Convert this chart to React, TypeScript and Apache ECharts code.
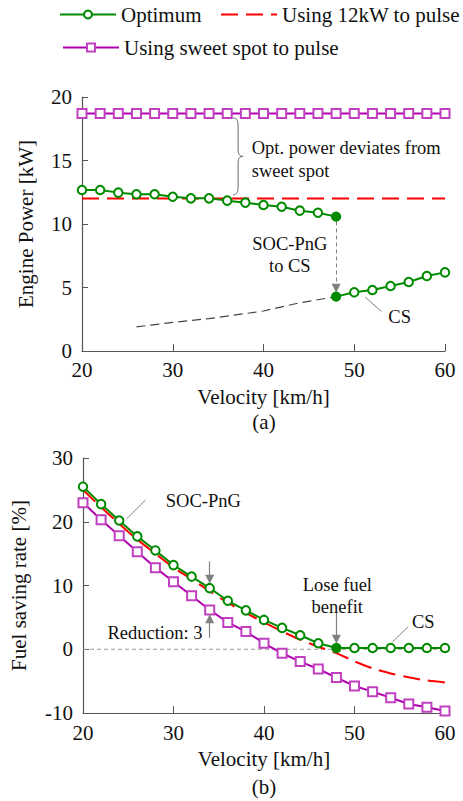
import React, { useEffect, useRef } from 'react';
import * as echarts from 'echarts';

// ---------- data ----------
const velocity = [20, 22, 24, 26, 28, 30, 32, 34, 36, 38, 40, 42, 44, 46, 48, 50, 52, 54, 56, 58, 60];

// (a) Engine power [kW]
const topOptPulseV = [20, 22, 24, 26, 28, 30, 32, 34, 36, 38, 40, 42, 44, 46, 48];
const topOptPulse = [12.68, 12.68, 12.47, 12.34, 12.34, 12.15, 12.02, 12.02, 11.84, 11.68, 11.5, 11.36, 11.05, 10.89, 10.58];
const topOptCSV = [48, 50, 52, 54, 56, 58, 60];
const topOptCS = [4.28, 4.62, 4.8, 5.12, 5.43, 5.9, 6.19];
const topSweet = [18.7, 18.7, 18.7, 18.7, 18.7, 18.7, 18.7, 18.7, 18.7, 18.7, 18.7, 18.7, 18.7, 18.7, 18.7, 18.7, 18.7, 18.7, 18.7, 18.7, 18.7];
const top12kW = [12, 12, 12, 12, 12, 12, 12, 12, 12, 12, 12, 12, 12, 12, 12, 12, 12, 12, 12, 12, 12];
const topCSLowV = [26, 30, 34, 40, 44, 48];
const topCSLow = [1.9, 2.25, 2.55, 3.15, 3.8, 4.28];

// (b) Fuel saving rate [%]
const botOpt = [25.5, 22.76, 20.2, 17.7, 15.5, 13.2, 11.4, 9.58, 7.6, 6.1, 4.6, 3.35, 2.2, 0.94, 0.2, 0.2, 0.2, 0.2, 0.2, 0.2, 0.2];
const bot12kW = [25.0, 22.3, 19.7, 17.2, 15.0, 12.8, 11.0, 9.1, 7.3, 5.7, 4.2, 2.8, 1.5, 0.4, -0.6, -1.9, -3.0, -3.8, -4.4, -4.9, -5.2];
const botSweet = [23.0, 20.3, 17.8, 15.3, 12.8, 10.6, 8.4, 6.17, 4.2, 2.77, 0.94, -0.63, -1.94, -3.1, -4.45, -5.76, -6.65, -7.6, -8.59, -9.1, -9.69];

const legendNames = ['Optimum', 'Using 12kW to pulse', 'Using sweet spot to pulse'];

// ---------- styles ----------
const FONT = 'Liberation Serif';
const GREEN = '#008a00';
const RED = '#ff0000';
const MAGENTA = '#b000b0';
const AXIS = '#555555';
const GRAY = '#808080';

echarts.graphic.registerShape(
  'brace',
  echarts.graphic.extendPath(
    'M0,0 C4,0 5,3 5,8 L5,31 C5,36 6,38.5 10,38.5 C6,38.5 5,41 5,46 L5,69 C5,74 4,77 0,77',
    {}
  )
);

const zip = (xs: number[], ys: number[]) => xs.map((x, i) => [x, ys[i]]);

function xAxisOpt(gridIndex: number, labelMargin: number) {
  return {
    gridIndex,
    type: 'value',
    min: 20,
    max: 60,
    interval: 10,
    name: 'Velocity [km/h]',
    nameLocation: 'middle',
    nameGap: 35,
    nameTextStyle: { fontFamily: FONT, fontSize: 21, color: '#111' },
    axisLine: { show: true, onZero: false, lineStyle: { color: AXIS, width: 1.2 } },
    axisTick: { show: true, inside: true, length: 7, lineStyle: { color: AXIS } },
    axisLabel: { fontFamily: FONT, fontSize: 21, color: '#111', margin: labelMargin },
    splitLine: { show: false },
  };
}

function yAxisOpt(gridIndex: number, min: number, max: number, interval: number, name: string, nameGap: number) {
  return {
    gridIndex,
    type: 'value',
    min,
    max,
    interval,
    name,
    nameLocation: 'middle',
    nameGap,
    nameRotate: 90,
    nameTextStyle: { fontFamily: FONT, fontSize: 21, color: '#111' },
    axisLine: { show: true, onZero: false, lineStyle: { color: AXIS, width: 1.2 } },
    axisTick: { show: true, inside: true, length: 6, lineStyle: { color: AXIS } },
    axisLabel: { fontFamily: FONT, fontSize: 21, color: '#111', margin: 10 },
    splitLine: { show: false },
  };
}

const circleItems = (pts: number[][], filledX: number) =>
  pts.map(([x, y]) =>
    x === filledX
      ? { value: [x, y], symbol: 'circle', symbolSize: 9, itemStyle: { color: GREEN, borderColor: GREEN } }
      : { value: [x, y] }
  );

const legendOpt = (name: string, left: number, top: number, extra: any = {}) => ({
  data: [{ name, ...extra }],
  left,
  top,
  itemWidth: 56,
  itemHeight: 10,
  itemGap: 0,
  padding: 0,
  selectedMode: false,
  textStyle: { fontFamily: FONT, fontSize: 21, color: '#111' },
});

export default function App() {
  const ref = useRef<HTMLDivElement>(null);

  useEffect(() => {
    if (!ref.current) return;
    const chart = echarts.init(ref.current, undefined, { renderer: 'svg' });

    const greenSeries = (name: string, xi: number, data: any[]) => ({
      name,
      type: 'line',
      xAxisIndex: xi,
      yAxisIndex: xi,
      data,
      symbol: 'emptyCircle',
      symbolSize: 8.5,
      showAllSymbol: true,
      lineStyle: { color: GREEN, width: 2 },
      itemStyle: { color: GREEN, borderColor: GREEN, borderWidth: 1.3 },
      z: 5,
    });
    const sweetSeries = (xi: number, ys: number[]) => ({
      name: 'Using sweet spot to pulse',
      type: 'line',
      xAxisIndex: xi,
      yAxisIndex: xi,
      data: zip(velocity, ys),
      symbol: 'emptyRect',
      symbolSize: 9,
      showAllSymbol: true,
      lineStyle: { color: MAGENTA, width: 2 },
      itemStyle: { color: '#c040c0', borderColor: '#c040c0', borderWidth: 1.3 },
      z: 4,
    });
    const redSeries = (xi: number, ys: number[], smooth: number) => ({
      name: 'Using 12kW to pulse',
      type: 'line',
      xAxisIndex: xi,
      yAxisIndex: xi,
      data: zip(velocity, ys),
      symbol: 'none',
      smooth,
      lineStyle: { color: RED, width: 2, type: [17, 8] },
      itemStyle: { color: RED },
      z: 3,
    });
    const helper = (name: string, xi: number, lines: number[][][], style: any, arrow: boolean) => ({
      name,
      type: 'line',
      xAxisIndex: xi,
      yAxisIndex: xi,
      data: [],
      silent: true,
      markLine: {
        silent: true,
        animation: false,
        symbol: arrow ? ['none', 'triangle'] : ['none', 'none'],
        symbolSize: 9,
        label: { show: false },
        lineStyle: style,
        emphasis: { disabled: true },
        data: lines.map(([a, b]) => [{ coord: a }, { coord: b }]),
      },
      z: 6,
    });

    const option: any = {
      animation: false,
      textStyle: { fontFamily: FONT },
      legend: [
        legendOpt(legendNames[0], 59, 4),
        legendOpt(legendNames[1], 220, 4, { itemStyle: { opacity: 0 } }),
        legendOpt(legendNames[2], 62, 37),
      ],
      grid: [
        { left: 82, right: 18, top: 97, height: 254 },
        { left: 82, right: 18, top: 458, height: 255 },
      ],
      xAxis: [xAxisOpt(0, 8), xAxisOpt(1, 9)],
      yAxis: [
        yAxisOpt(0, 0, 20, 5, 'Engine Power [kW]', 46),
        yAxisOpt(1, -10, 30, 10, 'Fuel saving rate [%]', 54),
      ],
      series: [
        // (a)
        {
          name: 'csLow',
          type: 'line',
          xAxisIndex: 0,
          yAxisIndex: 0,
          data: zip(topCSLowV, topCSLow),
          symbol: 'none',
          lineStyle: { color: '#444', width: 1.2, type: [9, 5] },
          z: 2,
          silent: true,
        },
        redSeries(0, top12kW, 0),
        sweetSeries(0, topSweet),
        greenSeries('Optimum', 0, circleItems(zip(topOptPulseV, topOptPulse), 48)),
        greenSeries('Optimum', 0, circleItems(zip(topOptCSV, topOptCS), 48)),
        helper('arrowTop', 0, [[[48, 10.2], [48, 4.95]]], { color: GRAY, width: 1, type: [4, 3] }, true),
        helper('leaderTop', 0, [[[51.2, 4.25], [53.0, 3.1]]], { color: GRAY, width: 1, type: 'solid' }, false),
        // (b)
        {
          name: 'zeroLine',
          type: 'line',
          xAxisIndex: 1,
          yAxisIndex: 1,
          data: [[20, 0], [60, 0]],
          symbol: 'none',
          lineStyle: { color: '#999', width: 1, type: [4, 3] },
          z: 1,
          silent: true,
        },
        redSeries(1, bot12kW, 0.3),
        sweetSeries(1, botSweet),
        greenSeries('Optimum', 1, circleItems(zip(velocity, botOpt), 48)),
        helper('arrowsBot', 1, [
          [[34, 13.8], [34, 11.0]],
          [[34, 1.8], [34, 4.8]],
          [[48, 5.7], [48, 1.55]],
        ], { color: GRAY, width: 1.2, type: 'solid' }, true),
        helper('leaderBot', 1, [
          [[26.9, 23.4], [24.85, 20.5]],
          [[55.9, 3.5], [54.2, 1.15]],
        ], { color: GRAY, width: 1, type: 'solid' }, false),
      ],
    };
    chart.setOption(option);

    const p0 = (x: number, y: number) => chart.convertToPixel({ gridIndex: 0 }, [x, y]) as number[];
    const p1 = (x: number, y: number) => chart.convertToPixel({ gridIndex: 1 }, [x, y]) as number[];
    const txt = (pt: number[], text: string, align: string, size = 18.5, lh = 23) => ({
      type: 'text',
      x: pt[0],
      y: pt[1],
      silent: true,
      style: {
        text,
        font: `${size}px ${FONT}`,
        fill: '#111',
        align,
        verticalAlign: 'middle',
        textAlign: align,
        textVerticalAlign: 'middle',
        lineHeight: lh,
      },
    });

    const braceTop = p0(37.2, 18.35);
    const braceBot = p0(37.2, 12.3);
    const braceH = braceBot[1] - braceTop[1];

    chart.setOption({
      graphic: [
        {
          type: 'brace',
          x: braceTop[0] - 5,
          y: braceTop[1],
          scaleY: braceH / 77,
          silent: true,
          style: { stroke: '#666', fill: 'none', lineWidth: 1 },
        },
        txt(p0(38.7, 15.07), 'Opt. power deviates from\nsweet spot', 'left'),
        txt(p0(42.9, 7.52), 'SOC-PnG\nto CS', 'center', 18.5, 22),
        txt(p0(55.0, 2.68), 'CS', 'center'),
        txt(p1(33.3, 23.3), 'SOC-PnG', 'center'),
        txt(p1(33.2, 2.56), 'Reduction: 3', 'right'),
        txt(p1(48.1, 8.37), 'Lose fuel\nbenefit', 'center', 18.5, 22),
        txt(p1(57.6, 4.29), 'CS', 'center'),
        txt([264, 422], '(a)', 'center', 21),
        txt([264, 787], '(b)', 'center', 21),
      ],
    });

    return () => chart.dispose();
  }, []);

  return (
    <div
      ref={ref}
      style={{ position: 'absolute', left: 0, top: 0, width: 463, height: 801, background: '#fff' }}
    />
  );
}
